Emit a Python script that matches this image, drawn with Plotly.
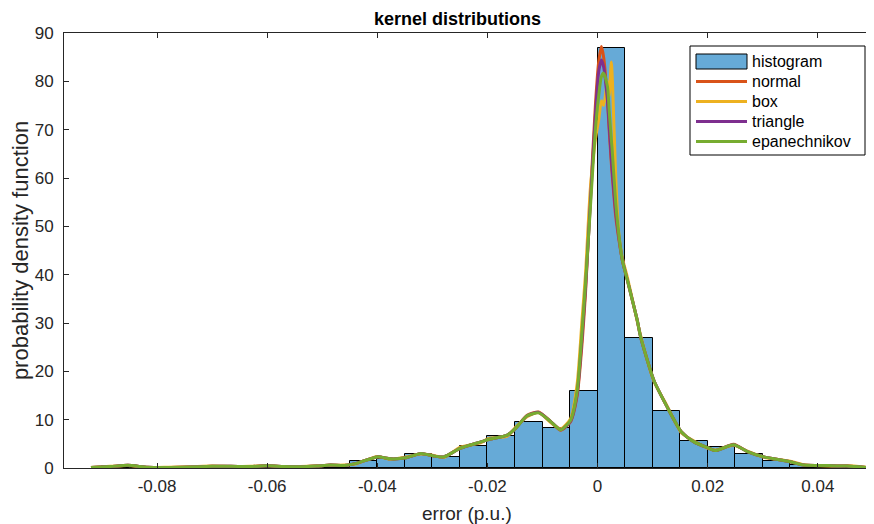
import plotly.graph_objects as go

# ---------------- data ----------------
bin_centers = [-0.0875, -0.0825, -0.0775, -0.0725, -0.0675, -0.0625, -0.0575,
               -0.0525, -0.0475, -0.0425, -0.0375, -0.0325, -0.0275, -0.0225, -0.0175,
               -0.0125, -0.0075, -0.0025, 0.0025, 0.0075, 0.0125, 0.0175, 0.0225,
               0.0275, 0.0325, 0.0375, 0.0425, 0.0475]
hist_values = [0.45, 0.3, 0.1, 0.25, 0.35, 0.3, 0.4,
               0.2, 0.5, 1.45, 1.9, 2.8, 2.2, 4.6, 6.6,
               9.6, 8.35, 16.0, 86.9, 27.0, 11.8, 5.6, 4.3,
               2.8, 1.4, 0.6, 0.4, 0.2]

kde_x = [-0.092, -0.0885, -0.0853, -0.0817, -0.078, -0.074, -0.070, -0.0666, -0.063, -0.060,
         -0.057, -0.054, -0.051, -0.0485, -0.046, -0.044, -0.040, -0.0376, -0.0348, -0.0321,
         -0.0298, -0.0279, -0.0249, -0.0212, -0.0198, -0.0164, -0.0149, -0.0128, -0.0107, -0.0085,
         -0.0067, -0.0049, -0.0037, -0.0028, -0.0022, -0.0013, -0.0004, 0.0002, 0.0007, 0.0011,
         0.0018, 0.0021, 0.0025, 0.0027, 0.0033, 0.0039, 0.0045, 0.0054, 0.0072, 0.0078,
         0.0102, 0.0126, 0.0152, 0.0175, 0.0202, 0.0214, 0.0247, 0.0272, 0.0302, 0.0350,
         0.0374, 0.0420, 0.0453, 0.0501]

normal_y = [0.1, 0.3, 0.55, 0.15, 0.1, 0.2, 0.35, 0.35, 0.3, 0.45,
            0.3, 0.25, 0.4, 0.6, 0.5, 0.9, 2.3, 1.9, 2.1, 3.0,
            2.5, 2.3, 4.1, 5.4, 5.9, 6.8, 8.2, 10.9, 11.6, 9.6,
            7.8, 9.6, 15.0, 26.0, 36.0, 56.0, 75.0, 84.0, 87.2, 85.0,
            76.0, 70.0, 63.0, 60.0, 52.0, 47.0, 43.0, 38.9, 30.6, 27.2,
            18.2, 12.7, 7.5, 5.4, 4.1, 3.6, 4.9, 3.4, 2.3, 1.3,
            0.6, 0.5, 0.4, 0.0]

box_y = [0.1, 0.35, 0.5, 0.1, 0.15, 0.25, 0.4, 0.3, 0.35, 0.5,
         0.25, 0.3, 0.45, 0.55, 0.6, 0.8, 2.4, 1.8, 2.3, 2.9,
         2.6, 2.2, 4.3, 5.2, 6.1, 6.6, 8.4, 10.6, 11.5, 9.4,
         8.1, 10.2, 17.5, 31.0, 40.0, 58.0, 68.0, 72.0, 76.0, 75.0,
         80.0, 77.0, 84.0, 80.0, 60.0, 48.0, 43.5, 39.5, 30.4, 27.5,
         18.0, 12.9, 7.3, 5.6, 4.0, 3.7, 4.7, 3.5, 2.2, 1.4,
         0.7, 0.4, 0.5, 0.0]

triangle_y = [0.1, 0.3, 0.55, 0.15, 0.1, 0.2, 0.35, 0.35, 0.3, 0.45,
              0.3, 0.25, 0.4, 0.6, 0.5, 0.9, 2.3, 1.9, 2.1, 3.0,
              2.5, 2.3, 4.1, 5.4, 5.9, 6.8, 8.2, 10.8, 11.5, 9.6,
              7.9, 9.7, 15.5, 27.5, 37.0, 55.0, 73.0, 82.0, 84.4, 83.0,
              76.0, 71.0, 64.0, 61.0, 53.0, 47.5, 43.0, 38.9, 30.6, 27.2,
              18.2, 12.7, 7.5, 5.4, 4.1, 3.6, 4.8, 3.4, 2.3, 1.3,
              0.6, 0.5, 0.4, 0.0]

epanechnikov_y = [0.1, 0.3, 0.55, 0.15, 0.1, 0.2, 0.35, 0.35, 0.3, 0.45,
                  0.3, 0.25, 0.4, 0.6, 0.5, 0.9, 2.3, 1.9, 2.1, 3.0,
                  2.5, 2.3, 4.1, 5.4, 5.9, 6.8, 8.2, 10.8, 11.4, 9.6,
                  7.9, 9.9, 16.0, 28.6, 38.0, 54.0, 70.0, 77.0, 81.0, 81.7,
                  78.9, 74.0, 68.0, 65.0, 54.8, 47.9, 43.0, 38.9, 30.6, 27.2,
                  18.2, 12.7, 7.5, 5.4, 4.1, 3.6, 4.8, 3.4, 2.3, 1.3,
                  0.6, 0.5, 0.4, 0.0]

x_tickvals = [-0.08, -0.06, -0.04, -0.02, 0, 0.02, 0.04]
x_ticktext = ["-0.08", "-0.06", "-0.04", "-0.02", "0", "0.02", "0.04"]
y_tickvals = [0, 10, 20, 30, 40, 50, 60, 70, 80, 90]

hist_name = "histogram"
series = [
    ("normal", normal_y, "#D95319"),
    ("box", box_y, "#EDB120"),
    ("triangle", triangle_y, "#7E2F8E"),
    ("epanechnikov", epanechnikov_y, "#77AC30"),
]

# ---------------- figure ----------------
FONT = "Liberation Sans, Arial, Helvetica, sans-serif"
AX = "#262626"
BAR_COLOR = "#66AAD7"
OFF = 8  # the page body margin shifts the figure by 8px
PAGE_W, PAGE_H = 874, 524
W, H = PAGE_W - OFF, PAGE_H - OFF
# plot area in page pixels: x 64..874, y 33..468
ML, MR, MT = 64 - OFF, 0, 33 - OFF
MB = (OFF + H) - 468
PW, PH = W - ML - MR, H - MT - MB


def px(x_page):
    return (x_page - OFF - ML) / PW


def py(y_page):
    return (H - MB - (y_page - OFF)) / PH


fig = go.Figure()
fig.add_trace(go.Bar(
    x=bin_centers, y=hist_values, width=0.005, name=hist_name,
    marker=dict(color=BAR_COLOR, line=dict(color="#000000", width=1)),
))
for name, ys, col in series:
    fig.add_trace(go.Scatter(
        x=kde_x, y=ys, mode="lines", name=name,
        line=dict(color=col, width=3, shape="spline", smoothing=0.6),
    ))

# manual MATLAB-style legend (page pixel positions)
shapes = []
annotations = []
LX0, LX1, LY0, LY1 = 690, 865, 46, 155
shapes.append(dict(type="rect", xref="paper", yref="paper",
                   x0=px(LX0), x1=px(LX1), y0=py(LY1), y1=py(LY0),
                   line=dict(color="#000000", width=1), fillcolor="white", layer="above"))
row_y = [61.5, 81.5, 101.5, 121.5, 141.5]
SW0, SW1, TX = 696, 747, 750
shapes.append(dict(type="rect", xref="paper", yref="paper",
                   x0=px(SW0), x1=px(SW1), y0=py(row_y[0] + 7.5), y1=py(row_y[0] - 7.5),
                   line=dict(color="#000000", width=1), fillcolor=BAR_COLOR, layer="above"))
annotations.append(dict(xref="paper", yref="paper", x=px(TX), y=py(row_y[0]),
                        text=hist_name, showarrow=False, xanchor="left", yanchor="middle",
                        font=dict(size=16, color="#000000", family=FONT)))
for (name, _, col), ry in zip(series, row_y[1:]):
    shapes.append(dict(type="line", xref="paper", yref="paper",
                       x0=px(SW0), x1=px(SW1), y0=py(ry), y1=py(ry),
                       line=dict(color=col, width=3), layer="above"))
    annotations.append(dict(xref="paper", yref="paper", x=px(TX), y=py(ry),
                            text=name, showarrow=False, xanchor="left", yanchor="middle",
                            font=dict(size=16, color="#000000", family=FONT)))

# title and x-axis label as annotations at page positions
annotations.append(dict(xref="paper", yref="paper", x=px(457), y=py(19),
                        text="<b>kernel distributions</b>", showarrow=False,
                        xanchor="center", yanchor="middle",
                        font=dict(size=18, color="#000000", family=FONT)))
annotations.append(dict(xref="paper", yref="paper", x=px(467), y=py(513),
                        text="error (p.u.)", showarrow=False,
                        xanchor="center", yanchor="middle",
                        font=dict(size=19, color=AX, family=FONT)))

fig.update_layout(
    width=W, height=H,
    margin=dict(l=ML, r=MR, t=MT, b=MB),
    plot_bgcolor="white", paper_bgcolor="white",
    font=dict(family=FONT, size=17, color=AX),
    bargap=0,
    showlegend=False,
    shapes=shapes,
    annotations=annotations,
)
fig.update_xaxes(
    range=[-0.0969, 0.0502], tickvals=x_tickvals, ticktext=x_ticktext,
    ticks="inside", ticklen=5, tickcolor=AX, showline=True, linecolor=AX,
    linewidth=1, mirror="ticks", showgrid=False, zeroline=False,
    ticklabelstandoff=3,
    tickfont=dict(size=17),
)
fig.update_yaxes(
    range=[0, 90], tickvals=y_tickvals,
    ticks="inside", ticklen=5, tickcolor=AX, showline=True, linecolor=AX,
    linewidth=1, mirror="ticks", showgrid=False, zeroline=False,
    ticklabelstandoff=6,
    title=dict(text="probability density function", font=dict(size=22), standoff=0),
    tickfont=dict(size=17),
)

fig.write_html("out.html")
